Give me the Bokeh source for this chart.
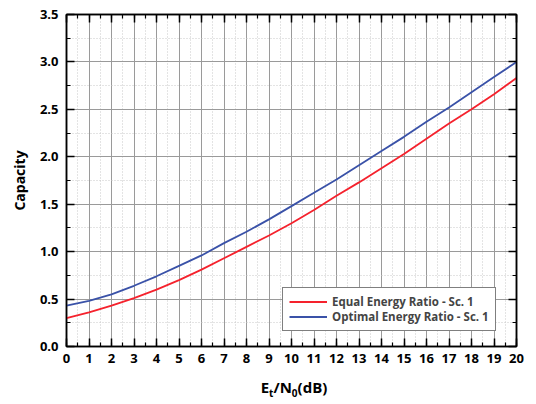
from bokeh.plotting import figure
from bokeh.layouts import column
from bokeh.models import (Range1d, SingleIntervalTicker, LinearAxis, Legend, LegendItem,
                          Div, PrintfTickFormatter, ColumnDataSource)
from bokeh.embed import file_html
from bokeh.resources import INLINE

snr_db = list(range(0, 21))
equal_ratio = [0.30, 0.36, 0.43, 0.51, 0.60, 0.70, 0.81, 0.93, 1.05, 1.17, 1.30,
               1.44, 1.59, 1.73, 1.88, 2.03, 2.19, 2.35, 2.50, 2.66, 2.83]
optimal_ratio = [0.43, 0.48, 0.55, 0.64, 0.74, 0.85, 0.96, 1.09, 1.21, 1.34, 1.48,
                 1.62, 1.76, 1.91, 2.06, 2.21, 2.37, 2.52, 2.68, 2.84, 3.00]
series_names = ["Equal Energy Ratio - Sc. 1", "Optimal Energy Ratio - Sc. 1"]
x_title_html = ('E<sub style="font-size:10px">t</sub>/N'
                '<sub style="font-size:10px">0</sub>(dB)')

FONT = "Open Sans"
W = 528

p = figure(width=W, height=370, output_backend="svg", toolbar_location=None,
           x_range=Range1d(0, 20), y_range=Range1d(0, 3.5),
           min_border_left=66, min_border_right=12, min_border_top=14, min_border_bottom=24,
           x_axis_location=None, y_axis_location=None)
p.background_fill_color = "white"
p.border_fill_color = "white"
p.outline_line_color = "black"
p.outline_line_width = 1.5

xt = SingleIntervalTicker(interval=1, num_minor_ticks=2)
yt = SingleIntervalTicker(interval=0.5, num_minor_ticks=2)

def style_axis(ax, labels=True):
    ax.axis_line_color = "black"
    ax.axis_line_width = 1.5
    ax.major_tick_in = 8
    ax.major_tick_out = 0
    ax.minor_tick_in = 4
    ax.minor_tick_out = 0
    ax.major_tick_line_width = 1.5
    ax.minor_tick_line_width = 1.2
    ax.major_tick_line_color = "black"
    ax.minor_tick_line_color = "black"
    if labels:
        ax.major_label_text_font = FONT
        ax.major_label_text_font_style = "bold"
        ax.major_label_text_font_size = "13px"
        ax.major_label_text_color = "black"
    else:
        ax.major_label_text_font_size = "0px"
        ax.major_label_text_color = None
        ax.major_label_standoff = 0

xb = LinearAxis(ticker=xt)
style_axis(xb)
xb.major_label_standoff = 7
p.add_layout(xb, "below")

yl = LinearAxis(ticker=yt, formatter=PrintfTickFormatter(format="%.1f"))
style_axis(yl)
yl.major_label_standoff = 8
yl.axis_label = "Capacity"
yl.axis_label_text_font = FONT
yl.axis_label_text_font_style = "bold"
yl.axis_label_text_font_size = "14px"
yl.axis_label_text_color = "black"
yl.axis_label_standoff = 8
p.add_layout(yl, "left")

xa = LinearAxis(ticker=xt)
style_axis(xa, labels=False)
p.add_layout(xa, "above")
yr = LinearAxis(ticker=yt)
style_axis(yr, labels=False)
p.add_layout(yr, "right")

p.xgrid.ticker = xt
p.ygrid.ticker = yt
for g in (p.xgrid, p.ygrid):
    g.grid_line_color = "#9a9a9a"
    g.grid_line_width = 1
    g.minor_grid_line_color = "#c8c8c8"
    g.minor_grid_line_dash = "1 2"
    g.minor_grid_line_width = 1

src = ColumnDataSource(dict(x=snr_db, eq=equal_ratio, opt=optimal_ratio))
r1 = p.line("x", "eq", source=src, line_color="#f5222d", line_width=1.8)
r2 = p.line("x", "opt", source=src, line_color="#3a52a8", line_width=1.8)

leg = Legend(items=[LegendItem(label=series_names[0], renderers=[r1]),
                    LegendItem(label=series_names[1], renderers=[r2])],
             location=(216, 15), padding=6, spacing=0, margin=0,
             glyph_width=38, glyph_height=15, label_height=15, label_standoff=5,
             label_text_font=FONT, label_text_font_style="bold", label_text_font_size="11.5px",
             border_line_color="black", border_line_width=1, background_fill_alpha=1)
p.add_layout(leg, "center")

# x-axis title with real subscripts, as HTML text below the plot
title_div = Div(text=x_title_html, width=456, height=18, margin=(8, 0, 0, 66),
                styles={"font-family": FONT, "font-weight": "bold", "font-size": "15px",
                        "text-align": "center", "line-height": "18px", "color": "black"})

layout = column(p, title_div, spacing=0)
open("out.html", "w").write(file_html(layout, INLINE))
